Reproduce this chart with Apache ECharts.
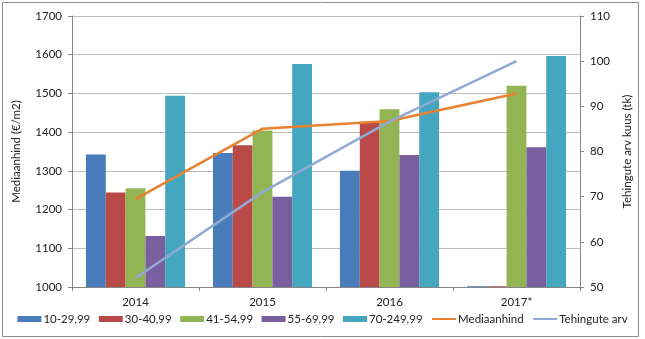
<!DOCTYPE html>
<html><head><meta charset="utf-8">
<script src="https://cdn.jsdelivr.net/npm/echarts@6/dist/echarts.min.js"></script>
<style>html,body{margin:0;padding:0;background:#fff}#c{width:645px;height:339px}</style>
</head><body><div id="c"></div>
<script>
const categories = ['2014', '2015', '2016', '2017*'];
const s10 = [1342, 1346, 1300, 1002];
const s30 = [1244, 1366, 1427, 1002];
const s41 = [1255, 1404, 1459, 1520];
const s55 = [1132, 1233, 1341, 1361];
const s70 = [1494, 1576, 1503, 1597];
const median = [1227, 1409, 1429, 1500];
const deals = [52, 71, 86.6, 100];
const leftTicks = { min: 1000, max: 1700, interval: 100 };
const rightTicks = { min: 50, max: 110, interval: 10 };

const FONT = 'Lato';
const chart = echarts.init(document.getElementById('c'), null, {renderer: 'canvas'});
const barNames = ['10-29,99', '30-40,99', '41-54,99', '55-69,99', '70-249,99'];
const barData = [s10, s30, s41, s55, s70];
const barColors = ['#4A7BBA', '#BA4A47', '#93B452', '#7A5F9E', '#45A6BF'];
const series = barNames.map((n, i) => ({
  name: n, type: 'bar', data: barData[i], itemStyle: {color: barColors[i]},
  barGap: '0%', barCategoryGap: '22%', yAxisIndex: 0
}));
series.push({name: 'Mediaanhind', type: 'line', data: median, yAxisIndex: 0, symbol: 'none',
  lineStyle: {color: '#E98230', width: 2.5}, itemStyle: {color: '#E98230'}});
series.push({name: 'Tehingute arv', type: 'line', data: deals, yAxisIndex: 1, symbol: 'none',
  lineStyle: {color: '#8FAAD3', width: 2.5}, itemStyle: {color: '#8FAAD3'}});

chart.setOption({
  animation: false,
  textStyle: {fontFamily: FONT},
  graphic: [{type: 'rect', shape: {x: 2.5, y: 2.5, width: 636, height: 334}, style: {fill: 'none', stroke: '#8c8c8c', lineWidth: 1}, silent: true}],
  grid: {left: 72, right: 65, top: 16, bottom: 52},
  legend: {
    bottom: 9, left: 'center', itemWidth: 24, itemHeight: 6, itemGap: 8.5,
    textStyle: {fontFamily: FONT, fontSize: 11.5, color: '#222', padding: [0, 0, 0, -3]},
    data: barNames.map(n => ({name: n, icon: 'rect'})).concat([
      {name: 'Mediaanhind', itemStyle: {opacity: 0}, lineStyle: {width: 2}},
      {name: 'Tehingute arv', itemStyle: {opacity: 0}, lineStyle: {width: 2}}])
  },
  xAxis: {
    type: 'category', data: categories,
    axisLine: {lineStyle: {color: '#868686'}},
    axisTick: {show: true, alignWithLabel: false, length: 4, lineStyle: {color: '#868686'}},
    axisLabel: {fontFamily: FONT, fontSize: 11.5, color: '#222', margin: 9}
  },
  yAxis: [{
    type: 'value', min: leftTicks.min, max: leftTicks.max, interval: leftTicks.interval,
    name: 'Mediaanhind (€/m2)', nameLocation: 'middle', nameGap: 50, nameRotate: 90,
    nameTextStyle: {fontFamily: FONT, fontSize: 11.5, color: '#222'},
    axisLine: {show: true, lineStyle: {color: '#868686'}},
    axisTick: {show: true, length: 4, lineStyle: {color: '#868686'}},
    axisLabel: {fontFamily: FONT, fontSize: 11.5, color: '#222', margin: 10, formatter: v => String(v)},
    splitLine: {lineStyle: {color: '#BEBEBE'}}
  }, {
    type: 'value', min: rightTicks.min, max: rightTicks.max, interval: rightTicks.interval,
    name: 'Tehingute arv kuus (tk)', nameLocation: 'middle', nameGap: 35, nameRotate: 90,
    nameTextStyle: {fontFamily: FONT, fontSize: 11.5, color: '#222'},
    axisLine: {show: true, lineStyle: {color: '#868686'}},
    axisTick: {show: true, length: 4, lineStyle: {color: '#868686'}},
    axisLabel: {fontFamily: FONT, fontSize: 11.5, color: '#222', margin: 10, formatter: v => String(v)},
    splitLine: {show: false}
  }],
  series: series
});
</script></body></html>
